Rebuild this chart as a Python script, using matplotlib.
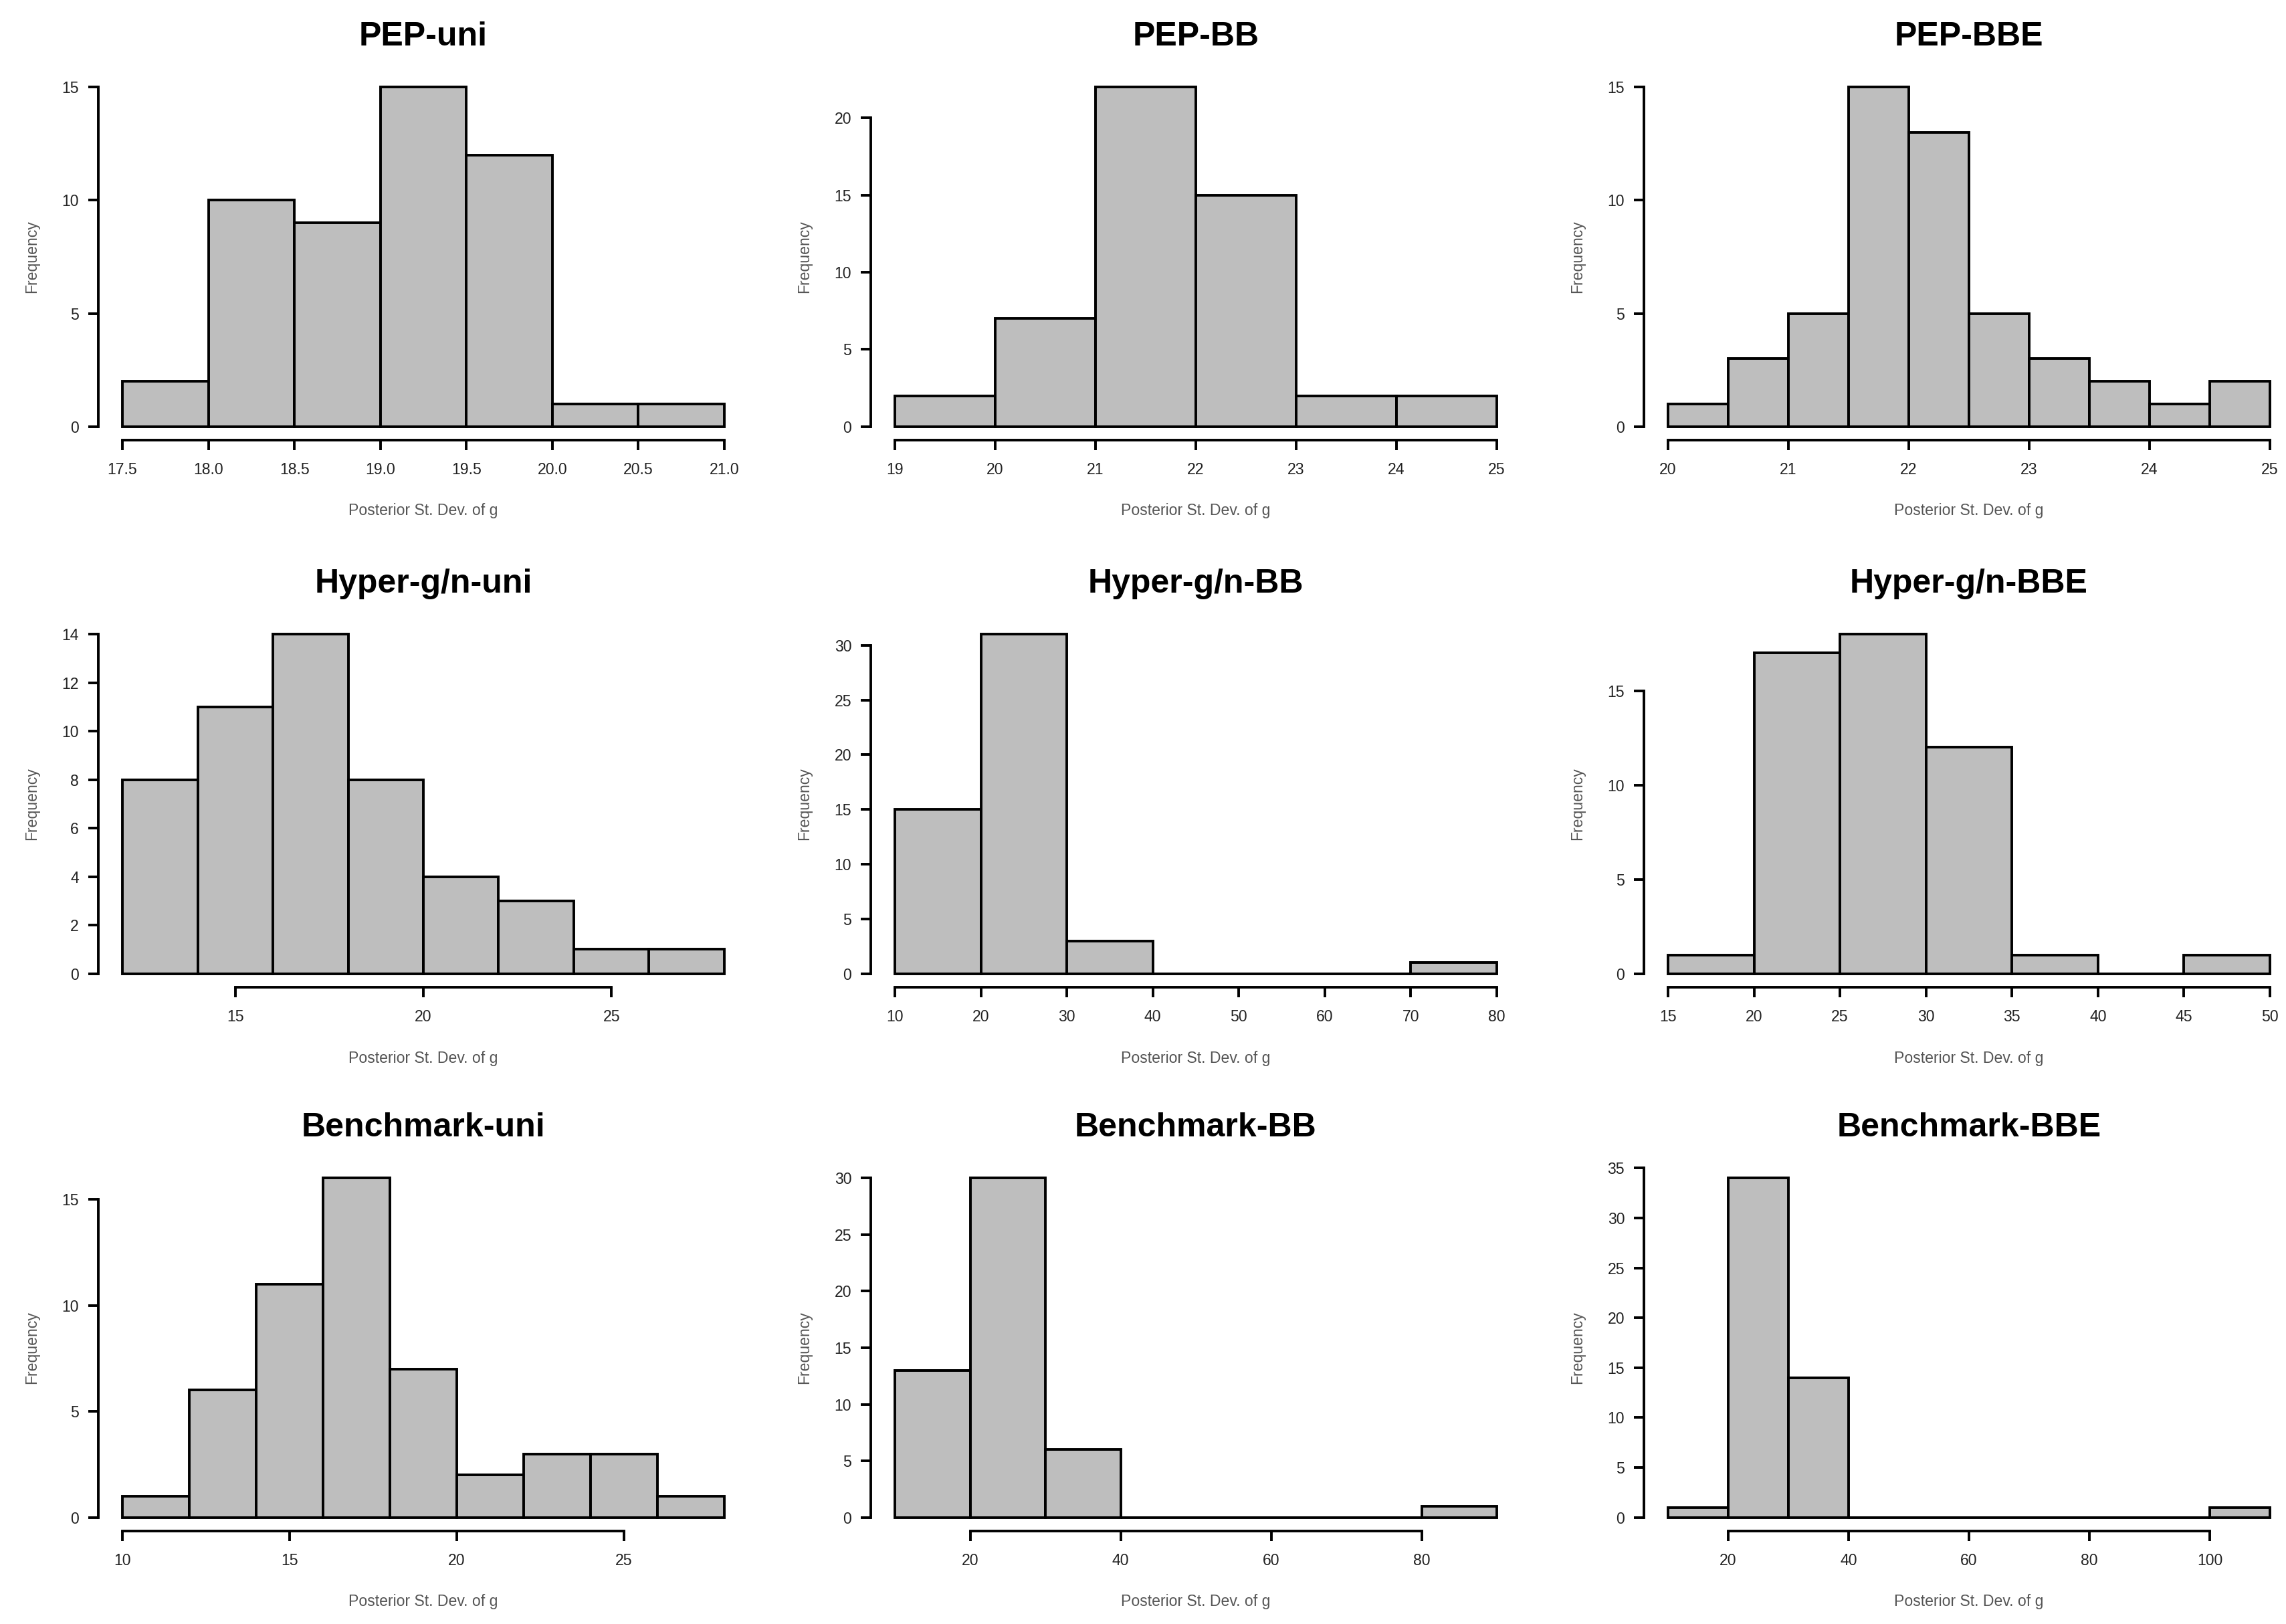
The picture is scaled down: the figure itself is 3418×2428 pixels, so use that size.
import matplotlib
matplotlib.use("Agg")
import matplotlib.pyplot as plt
import numpy as np

plt.rcParams['font.family'] = ['Liberation Sans', 'DejaVu Sans']

# Histogram data (bin breaks and counts per panel)
titles = ['PEP-uni', 'PEP-BB', 'PEP-BBE',
          'Hyper-g/n-uni', 'Hyper-g/n-BB', 'Hyper-g/n-BBE',
          'Benchmark-uni', 'Benchmark-BB', 'Benchmark-BBE']

breaks_pep_uni = [17.5, 18.0, 18.5, 19.0, 19.5, 20.0, 20.5, 21.0]
counts_pep_uni = [2, 10, 9, 15, 12, 1, 1]
breaks_pep_bb = [19, 20, 21, 22, 23, 24, 25]
counts_pep_bb = [2, 7, 22, 15, 2, 2]
breaks_pep_bbe = [20, 20.5, 21, 21.5, 22, 22.5, 23, 23.5, 24, 24.5, 25]
counts_pep_bbe = [1, 3, 5, 15, 13, 5, 3, 2, 1, 2]

breaks_hyp_uni = [12, 14, 16, 18, 20, 22, 24, 26, 28]
counts_hyp_uni = [8, 11, 14, 8, 4, 3, 1, 1]
breaks_hyp_bb = [10, 20, 30, 40, 50, 60, 70, 80]
counts_hyp_bb = [15, 31, 3, 0, 0, 0, 1]
breaks_hyp_bbe = [15, 20, 25, 30, 35, 40, 45, 50]
counts_hyp_bbe = [1, 17, 18, 12, 1, 0, 1]

breaks_bench_uni = [10, 12, 14, 16, 18, 20, 22, 24, 26, 28]
counts_bench_uni = [1, 6, 11, 16, 7, 2, 3, 3, 1]
breaks_bench_bb = [10, 20, 30, 40, 50, 60, 70, 80, 90]
counts_bench_bb = [13, 30, 6, 0, 0, 0, 0, 1]
breaks_bench_bbe = [10, 20, 30, 40, 50, 60, 70, 80, 90, 100, 110]
counts_bench_bbe = [1, 34, 14, 0, 0, 0, 0, 0, 0, 1]

all_breaks = [breaks_pep_uni, breaks_pep_bb, breaks_pep_bbe,
              breaks_hyp_uni, breaks_hyp_bb, breaks_hyp_bbe,
              breaks_bench_uni, breaks_bench_bb, breaks_bench_bbe]
all_counts = [counts_pep_uni, counts_pep_bb, counts_pep_bbe,
              counts_hyp_uni, counts_hyp_bb, counts_hyp_bbe,
              counts_bench_uni, counts_bench_bb, counts_bench_bbe]

xticks = [[17.5, 18.0, 18.5, 19.0, 19.5, 20.0, 20.5, 21.0],
          [19, 20, 21, 22, 23, 24, 25],
          [20, 21, 22, 23, 24, 25],
          [15, 20, 25],
          [10, 20, 30, 40, 50, 60, 70, 80],
          [15, 20, 25, 30, 35, 40, 45, 50],
          [10, 15, 20, 25],
          [20, 40, 60, 80],
          [20, 40, 60, 80, 100]]
yticks = [[0, 5, 10, 15],
          [0, 5, 10, 15, 20],
          [0, 5, 10, 15],
          [0, 2, 4, 6, 8, 10, 12, 14],
          [0, 5, 10, 15, 20, 25, 30],
          [0, 5, 10, 15],
          [0, 5, 10, 15],
          [0, 5, 10, 15, 20, 25, 30],
          [0, 5, 10, 15, 20, 25, 30, 35]]

W, H = 3418, 2428
fig = plt.figure(figsize=(W / 200, H / 200), dpi=200)

# plot regions in pixels (left edges / bottom edges measured from top)
lefts = [147, 1302, 2458]
bottoms = [658, 1476, 2289]
pw, ph = 972, 548
lw = 1.4

for i in range(9):
    r, c = divmod(i, 3)
    ax = fig.add_axes([lefts[c] / W, 1 - bottoms[r] / H, pw / W, ph / H])
    br = np.array(all_breaks[i], dtype=float)
    cnt = np.array(all_counts[i], dtype=float)
    ax.hist(br[:-1], bins=br, weights=cnt, color='#BEBEBE',
            edgecolor='black', linewidth=lw)

    # R-style 4% padding on both axes
    xr = br[-1] - br[0]
    ax.set_xlim(br[0] - 0.04 * xr, br[-1] + 0.04 * xr)
    ymax = cnt.max()
    ax.set_ylim(-0.04 * ymax, 1.04 * ymax)

    ax.set_xticks(xticks[i])
    if i == 0:
        ax.set_xticklabels(['%.1f' % v for v in xticks[i]])
    ax.set_yticks(yticks[i])

    for s in ['top', 'right']:
        ax.spines[s].set_visible(False)
    ax.spines['bottom'].set_bounds(xticks[i][0], xticks[i][-1])
    ax.spines['left'].set_bounds(yticks[i][0], yticks[i][-1])
    ax.spines['bottom'].set_linewidth(lw)
    ax.spines['left'].set_linewidth(lw)

    ax.tick_params(axis='both', direction='out', length=5.4, width=lw,
                   labelsize=8.3, labelcolor='#222222')
    ax.tick_params(axis='x', pad=6.5)
    ax.tick_params(axis='y', pad=5)

    ax.set_title(titles[i], fontsize=18, fontweight='bold', pad=15)
    ax.set_xlabel('Posterior St. Dev. of g', fontsize=8.3, color='#555555')
    ax.set_ylabel('Frequency', fontsize=8.3, color='#555555')
    ax.xaxis.set_label_coords(0.5, -106 / ph)
    ax.xaxis.label.set_va('center')
    ax.yaxis.set_label_coords(-99 / pw, 0.5)
    ax.yaxis.label.set_va('center')

fig.savefig('out.png', dpi=200)
